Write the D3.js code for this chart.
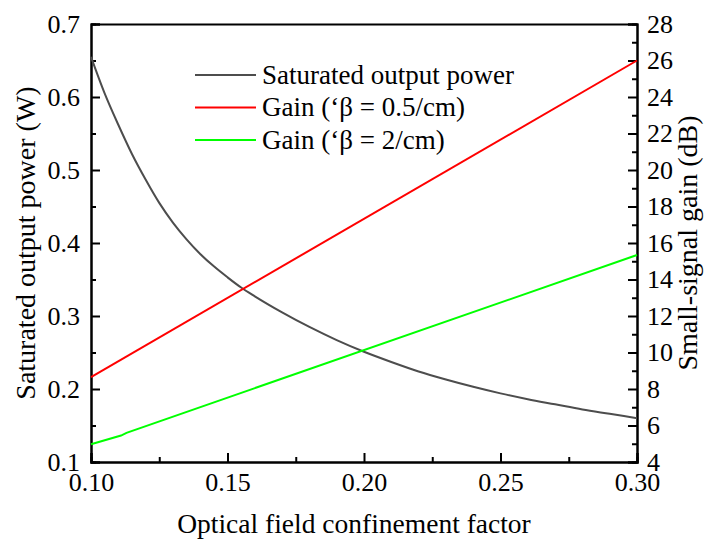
<!DOCTYPE html>
<html>
<head>
<meta charset="utf-8">
<script src="https://cdn.jsdelivr.net/npm/d3@7"></script>
<style>
  body { margin: 0; background: #fff; }
</style>
</head>
<body>
<div id="chart"></div>
<script>
// saturated output power (W) vs confinement factor
var gammaP = [0.100, 0.105, 0.110, 0.115, 0.120, 0.125, 0.130, 0.135, 0.140, 0.145, 0.150, 0.155, 0.160, 0.170, 0.180, 0.190, 0.200, 0.210, 0.220, 0.230, 0.240, 0.250, 0.260, 0.270, 0.280, 0.290, 0.300];
var power  = [0.655, 0.605, 0.562, 0.522, 0.487, 0.455, 0.428, 0.405, 0.385, 0.368, 0.353, 0.339, 0.327, 0.305, 0.285, 0.267, 0.251, 0.237, 0.224, 0.213, 0.203, 0.194, 0.186, 0.179, 0.172, 0.166, 0.160];

// small-signal gain (dB)
var gammaRed = [0.10, 0.30];
var gainRed  = [8.65, 26.0];
var gammaGreen = [0.100, 0.111, 0.113, 0.300];
var gainGreen  = [4.97, 5.45, 5.60, 15.34];

var xTicks = [0.10, 0.15, 0.20, 0.25, 0.30];
var yLeftTicks = [0.1, 0.2, 0.3, 0.4, 0.5, 0.6, 0.7];
var yRightTicks = [4, 6, 8, 10, 12, 14, 16, 18, 20, 22, 24, 26, 28];

var legendNames = ["Saturated output power", "Gain (\u2018\u03b2 = 0.5/cm)", "Gain (\u2018\u03b2 = 2/cm)"];
var legendColors = ["#4d4d4d", "#ff0000", "#00ff00"];

var FONT = "'Liberation Serif', 'Times New Roman', serif";

function init() {
    var w = 704, h = 544;
    var margin = { top: 24, right: 67, bottom: 82, left: 91 };

    var svg = d3.select("#chart").append("svg")
        .attr("width", w)
        .attr("height", h)
        .style("font-family", FONT);

    var x = d3.scaleLinear().domain([0.10, 0.30]).range([margin.left, w - margin.right]);
    var yL = d3.scaleLinear().domain([0.1, 0.7]).range([h - margin.bottom, margin.top]);
    var yR = d3.scaleLinear().domain([4, 28]).range([h - margin.bottom, margin.top]);

    var minorX = [0.125, 0.175, 0.225, 0.275];
    var minorL = [0.15, 0.25, 0.35, 0.45, 0.55, 0.65];
    var minorR = [5, 7, 9, 11, 13, 15, 17, 19, 21, 23, 25, 27];

    // bottom axis
    svg.append("g").attr("transform", "translate(0," + yL.range()[0] + ")")
        .call(d3.axisBottom(x).tickValues(xTicks).tickFormat(d3.format(".2f")).tickSize(-9).tickPadding(11));
    svg.append("g").attr("transform", "translate(0," + yL.range()[0] + ")")
        .call(d3.axisBottom(x).tickValues(minorX).tickFormat("").tickSize(-5));

    // left axis
    svg.append("g").attr("transform", "translate(" + margin.left + ",0)")
        .call(d3.axisLeft(yL).tickValues(yLeftTicks).tickFormat(d3.format(".1f")).tickSize(-9).tickPadding(11));
    svg.append("g").attr("transform", "translate(" + margin.left + ",0)")
        .call(d3.axisLeft(yL).tickValues(minorL).tickFormat("").tickSize(-5));

    // right axis
    svg.append("g").attr("transform", "translate(" + (w - margin.right) + ",0)")
        .call(d3.axisRight(yR).tickValues(yRightTicks).tickFormat(d3.format("d")).tickSize(-9).tickPadding(10));
    svg.append("g").attr("transform", "translate(" + (w - margin.right) + ",0)")
        .call(d3.axisRight(yR).tickValues(minorR).tickFormat("").tickSize(-5));

    // top border
    svg.append("g").attr("transform", "translate(0," + margin.top + ")")
        .call(d3.axisTop(x).tickValues([]).tickSizeOuter(0));

    svg.selectAll("g").attr("font-family", null).attr("font-size", null);
    svg.selectAll(".domain").attr("stroke", "#000").attr("stroke-width", 2);
    svg.selectAll(".tick line").attr("stroke", "#000").attr("stroke-width", 2);
    svg.selectAll(".tick text")
        .style("font-family", FONT)
        .style("font-size", "26px")
        .attr("fill", "#000");

    // curves
    var linePower = d3.line()
        .x(function(d, i) { return x(gammaP[i]); })
        .y(function(d) { return yL(d); })
        .curve(d3.curveMonotoneX);
    svg.append("path").datum(power)
        .attr("d", linePower).attr("fill", "none")
        .attr("stroke", legendColors[0]).attr("stroke-width", 2);

    var lineRed = d3.line().x(function(d, i) { return x(gammaRed[i]); }).y(function(d) { return yR(d); });
    svg.append("path").datum(gainRed)
        .attr("d", lineRed).attr("fill", "none")
        .attr("stroke", legendColors[1]).attr("stroke-width", 2);

    var lineGreen = d3.line().x(function(d, i) { return x(gammaGreen[i]); }).y(function(d) { return yR(d); });
    svg.append("path").datum(gainGreen)
        .attr("d", lineGreen).attr("fill", "none")
        .attr("stroke", legendColors[2]).attr("stroke-width", 2);

    // legend
    var leg = svg.append("g");
    leg.selectAll("line").data(legendNames).enter().append("line")
        .attr("x1", 195).attr("x2", 256)
        .attr("y1", function(d, i) { return 75 + i * 32.5; })
        .attr("y2", function(d, i) { return 75 + i * 32.5; })
        .attr("stroke", function(d, i) { return legendColors[i]; })
        .attr("stroke-width", 2);
    leg.selectAll("text").data(legendNames).enter().append("text")
        .attr("x", 262)
        .attr("y", function(d, i) { return 75 + i * 32.5; })
        .attr("dy", "0.33em")
        .style("font-family", FONT)
        .style("font-size", "27px")
        .text(function(d) { return d; });

    // axis titles
    svg.append("text")
        .attr("x", 354).attr("y", 533)
        .attr("text-anchor", "middle")
        .style("font-family", FONT)
        .style("font-size", "27.5px")
        .text("Optical field confinement factor");

    svg.append("text")
        .attr("transform", "translate(35," + ((margin.top + h - margin.bottom) / 2) + ") rotate(-90)")
        .attr("text-anchor", "middle")
        .style("font-family", FONT)
        .style("font-size", "28px")
        .text("Saturated output power (W)");

    svg.append("text")
        .attr("transform", "translate(697," + ((margin.top + h - margin.bottom) / 2) + ") rotate(-90)")
        .attr("text-anchor", "middle")
        .style("font-family", FONT)
        .style("font-size", "28px")
        .text("Small-signal gain (dB)");
}

window.onload = init;
</script>
</body>
</html>
